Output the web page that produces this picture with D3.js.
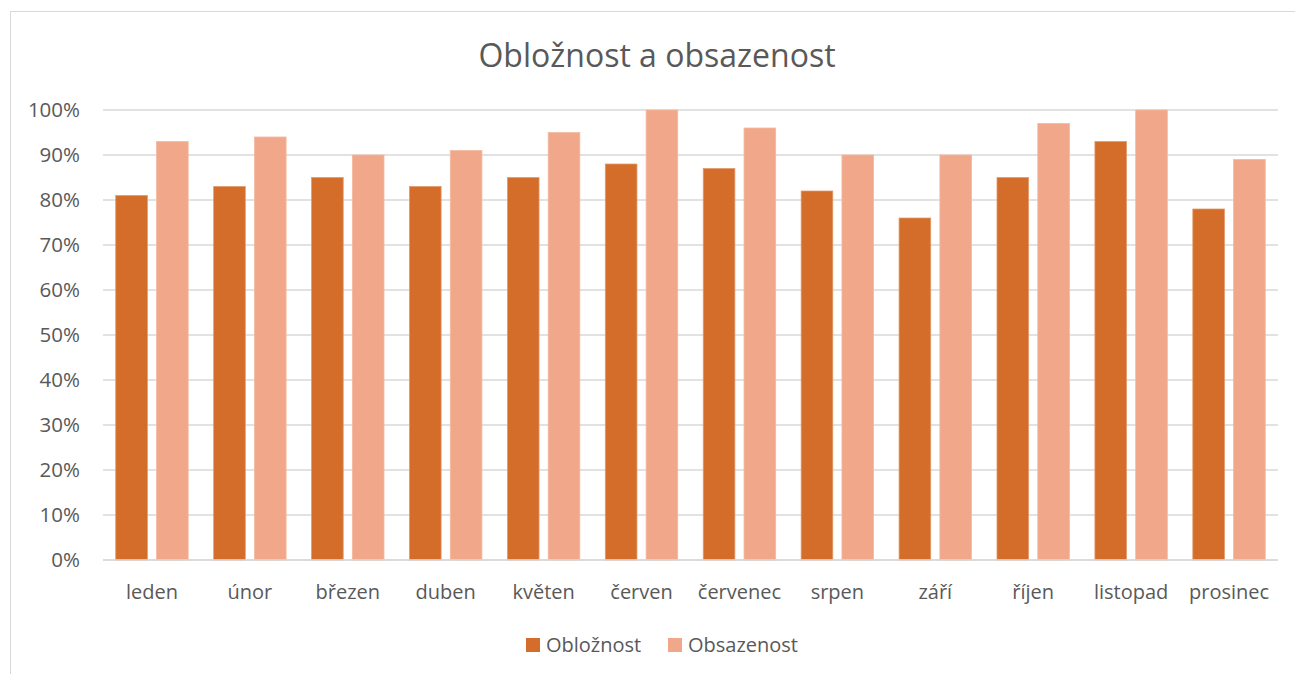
<!DOCTYPE html>
<html><head><meta charset="utf-8">
<script src="https://cdn.jsdelivr.net/npm/d3@7"></script>
<style>body{margin:0;background:#fff;} svg{display:block;}</style>
</head><body>
<script>
const categories = ["leden","únor","březen","duben","květen","červen","červenec","srpen","září","říjen","listopad","prosinec"];
const seriesNames = ["Obložnost","Obsazenost"];
const obloznost = [81,83,85,83,85,88,87,82,76,85,93,78];
const obsazenost = [93,94,90,91,95,100,96,90,90,97,100,89];
const yTicks = [0,10,20,30,40,50,60,70,80,90,100];
const colors = ["#D36D29","#F1A88A"];
const strokes = ["#E39A6C","#F4B8A0"];

const W=1295,H=674;
const svg=d3.select("body").append("svg").attr("width",W).attr("height",H);
const font="'Open Sans', sans-serif";
svg.append("rect").attr("x",10.5).attr("y",11.5).attr("width",W).attr("height",H).attr("fill","#fff").attr("stroke","#D9D9D9");

const m={l:103,r:1278,t:110,b:560};
const x=d3.scaleBand().domain(categories).range([m.l,m.r]).paddingInner(0.25).paddingOuter(0.125);
const x1=d3.scaleBand().domain(seriesNames).range([0,x.bandwidth()]).paddingInner(0.2);
const y=d3.scaleLinear().domain([0,100]).range([m.b,m.t]);

svg.append("g").selectAll("line").data(yTicks).join("line")
 .attr("x1",m.l).attr("x2",m.r).attr("y1",d=>y(d)).attr("y2",d=>y(d))
 .attr("stroke","#D9D9D9").attr("stroke-width",1.3);

svg.append("g").selectAll("text").data(yTicks).join("text")
 .attr("x",80).attr("y",d=>y(d)).attr("dy","0.35em").attr("text-anchor","end")
 .attr("font-family",font).attr("font-size",20.5).attr("fill","#595959").text(d=>d+"%");

const data=[obloznost,obsazenost];
data.forEach((vals,si)=>{
  svg.append("g").selectAll("rect").data(categories).join("rect")
   .attr("x",(c)=>x(c)+x1(seriesNames[si])+0.5)
   .attr("y",(c,i)=>y(vals[i]))
   .attr("width",x1.bandwidth()-1)
   .attr("height",(c,i)=>y(0)-y(vals[i]))
   .attr("fill",colors[si]).attr("stroke",strokes[si]).attr("stroke-width",0.8);
});

svg.append("line").attr("x1",m.l).attr("x2",m.r).attr("y1",y(0)).attr("y2",y(0)).attr("stroke","#D9D9D9").attr("stroke-width",1.3);

svg.append("g").selectAll("text").data(categories).join("text")
 .attr("x",c=>x(c)+x.bandwidth()/2).attr("y",592).attr("dy","0.35em").attr("text-anchor","middle")
 .attr("font-family",font).attr("font-size",20).attr("fill","#595959").text(c=>c);

svg.append("text").attr("x",657).attr("y",56).attr("dy","0.35em").attr("text-anchor","middle")
 .attr("font-family",font).attr("font-size",32).attr("fill","#595959").text("Obložnost a obsazenost");

const legX=[526,668];
seriesNames.forEach((s,i)=>{
  svg.append("rect").attr("x",legX[i]).attr("y",638).attr("width",14).attr("height",14).attr("fill",colors[i]);
  svg.append("text").attr("x",legX[i]+20).attr("y",645).attr("dy","0.35em")
   .attr("font-family",font).attr("font-size",20).attr("fill","#595959").text(s);
});
</script>
</body></html>
